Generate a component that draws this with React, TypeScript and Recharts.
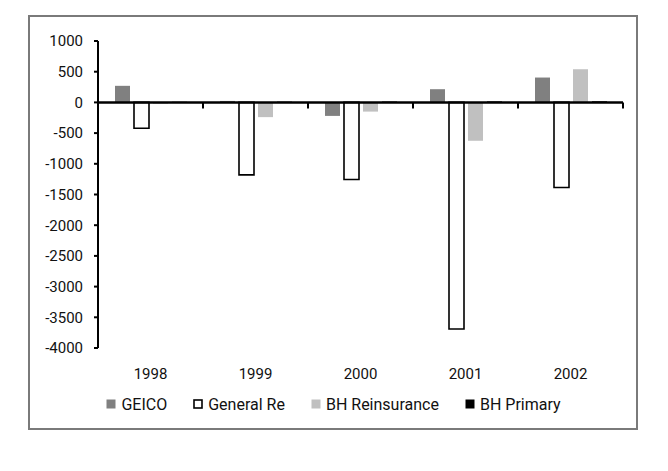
import React from 'react';
import { BarChart, Bar, XAxis, YAxis, ReferenceLine, Legend } from 'recharts';

// ─── Data ────────────────────────────────────────────────────────────────────

const years = ['1998', '1999', '2000', '2001', '2002'];
const geico = [270, 24, -220, 215, 405];
const generalRe = [-420, -1180, -1255, -3690, -1385];
const bhReinsurance = [-21, -240, -150, -625, 540];
const bhPrimary = [10, 12, 14, 16, 18];
const yTicks = [1000, 500, 0, -500, -1000, -1500, -2000, -2500, -3000, -3500, -4000];

const data = years.map((year, i) => ({
  year,
  geico: geico[i],
  generalRe: generalRe[i],
  bhReinsurance: bhReinsurance[i],
  bhPrimary: bhPrimary[i],
}));

const FONT = 'Roboto, "DejaVu Sans", sans-serif';

const LEGEND_ITEMS = [
  { name: 'GEICO', fill: '#808080', stroke: 'none' },
  { name: 'General Re', fill: '#ffffff', stroke: '#000000' },
  { name: 'BH Reinsurance', fill: '#c0c0c0', stroke: 'none' },
  { name: 'BH Primary', fill: '#000000', stroke: 'none' },
];

// zero line with the small "between categories" tick marks hanging below it
function ZeroLine(props: any) {
  const { x1, y1, x2, y2 } = props;
  const step = (x2 - x1) / years.length;
  return (
    <g>
      <line x1={x1} y1={y1} x2={x2} y2={y2} stroke="#000" strokeWidth={2.5} />
      {years.map((_, i) => {
        const x = x1 + step * (i + 1);
        return <line key={i} x1={x} y1={y1} x2={x} y2={y1 + 6} stroke="#000" strokeWidth={2} />;
      })}
    </g>
  );
}

function LegendContent() {
  return (
    <div style={{ height: 24, display: 'flex', justifyContent: 'center', alignItems: 'center', gap: 26, paddingLeft: 14 }}>
      {LEGEND_ITEMS.map((it) => (
        <div key={it.name} style={{ display: 'flex', alignItems: 'center' }}>
          <svg width={10} height={10} style={{ marginRight: 5 }}>
            <rect
              x={it.stroke === 'none' ? 0.5 : 1}
              y={it.stroke === 'none' ? 0.5 : 1}
              width={it.stroke === 'none' ? 9 : 8}
              height={it.stroke === 'none' ? 9 : 8}
              fill={it.fill}
              stroke={it.stroke}
              strokeWidth={1.6}
            />
          </svg>
          <span style={{ fontFamily: FONT, fontSize: 16, color: '#111' }}>{it.name}</span>
        </div>
      ))}
    </div>
  );
}

export default function App() {
  return (
    <div style={{ marginLeft: 20, marginTop: 7, width: 606, height: 411, border: '2px solid #7a7a7a', background: '#fff' }}>
      <BarChart
        width={606}
        height={411}
        data={data}
        margin={{ top: 24, right: 13, left: 0, bottom: 12 }}
        barSize={15}
        barGap={4}
      >
        <XAxis
          dataKey="year"
          axisLine={false}
          tickLine={false}
          tickSize={0}
          tickMargin={20}
          height={44}
          tick={{ fontFamily: FONT, fontSize: 15, fill: '#111' }}
        />
        <YAxis
          type="number"
          domain={[-4000, 1000]}
          ticks={yTicks}
          interval={0}
          width={68}
          axisLine={{ stroke: '#000', strokeWidth: 2 }}
          tickLine={{ stroke: '#000', strokeWidth: 2 }}
          tickSize={4}
          tickMargin={11}
          tick={{ fontFamily: FONT, fontSize: 15, fill: '#111' }}
        />
        <Legend verticalAlign="bottom" content={<LegendContent />} />
        <Bar dataKey="geico" name="GEICO" fill="#808080" isAnimationActive={false} />
        <Bar dataKey="generalRe" name="General Re" fill="#ffffff" stroke="#000" strokeWidth={1.6} isAnimationActive={false} />
        <Bar dataKey="bhReinsurance" name="BH Reinsurance" fill="#c0c0c0" isAnimationActive={false} />
        <Bar dataKey="bhPrimary" name="BH Primary" fill="#000000" isAnimationActive={false} />
        <ReferenceLine y={0} shape={<ZeroLine />} />
      </BarChart>
    </div>
  );
}
